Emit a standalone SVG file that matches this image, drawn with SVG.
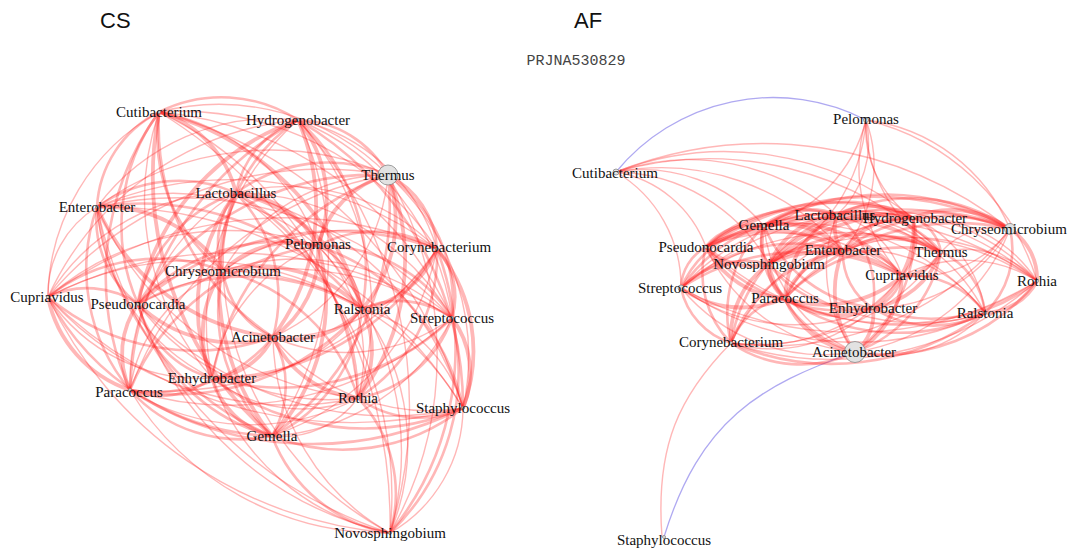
<svg xmlns="http://www.w3.org/2000/svg" width="1071" height="550" viewBox="0 0 1071 550">
<style>
.a,.b,.c{fill:none;stroke:#ff2020;stroke-opacity:.32}
.a{stroke-width:1.4}.b{stroke-width:2.6}.c{stroke-width:3.8}
.bl{fill:none;stroke:#7a70e8;stroke-opacity:.6;stroke-width:1.3}
.n circle{fill:#e2e2e2;stroke:#888;stroke-width:.8}
.n text{font-family:"Liberation Serif",serif;font-size:15px;fill:#111;text-anchor:middle}
.title{font-family:"Liberation Sans",Arial,sans-serif;font-size:22px;fill:#111}
.sub{font-family:"Liberation Mono",monospace;font-size:15px;fill:#444}
</style>
<rect width="1071" height="550" fill="#fff"/>
<text class="title" x="100" y="28">CS</text>
<text class="title" x="574" y="28">AF</text>
<text class="sub" x="576" y="65" text-anchor="middle">PRJNA530829</text>
<g id="connectors">
<g id="cs-edges">
<path class="b" d="M159,112 A140,140 0 0 1 298,120"/>
<path class="a" d="M159,112 A238,238 0 0 1 388,175"/>
<path class="b" d="M159,112 A113,113 0 0 0 97,207"/>
<path class="c" d="M159,112 A112,112 0 0 1 236,193"/>
<path class="a" d="M159,112 A207,207 0 0 1 318,246"/>
<path class="a" d="M159,112 A310,310 0 0 1 437,249"/>
<path class="b" d="M159,112 A171,171 0 0 0 223,271"/>
<path class="a" d="M159,112 A215,215 0 0 0 48,297"/>
<path class="b" d="M159,112 A192,192 0 0 0 138,304"/>
<path class="c" d="M159,112 A284,284 0 0 1 362,309"/>
<path class="a" d="M159,112 A359,359 0 0 1 452,318"/>
<path class="b" d="M159,112 A253,253 0 0 0 273,337"/>
<path class="a" d="M159,112 A271,271 0 0 0 212,378"/>
<path class="b" d="M159,112 A280,280 0 0 0 130,390"/>
<path class="a" d="M159,112 A349,349 0 0 1 358,398"/>
<path class="a" d="M159,112 A425,425 0 0 1 463,408"/>
<path class="c" d="M159,112 A343,343 0 0 0 272,436"/>
<path class="a" d="M159,112 A481,481 0 0 1 390,533"/>
<path class="b" d="M298,120 A105,105 0 0 1 388,175"/>
<path class="a" d="M298,120 A219,219 0 0 0 97,207"/>
<path class="b" d="M298,120 A96,96 0 0 0 236,193"/>
<path class="c" d="M298,120 A126,126 0 0 1 318,246"/>
<path class="a" d="M298,120 A188,188 0 0 1 437,249"/>
<path class="b" d="M298,120 A169,169 0 0 0 223,271"/>
<path class="a" d="M298,120 A306,306 0 0 0 48,297"/>
<path class="c" d="M298,120 A244,244 0 0 0 138,304"/>
<path class="b" d="M298,120 A200,200 0 0 1 362,309"/>
<path class="a" d="M298,120 A251,251 0 0 1 452,318"/>
<path class="c" d="M298,120 A218,218 0 0 1 273,337"/>
<path class="a" d="M298,120 A272,272 0 0 0 212,378"/>
<path class="b" d="M298,120 A320,320 0 0 0 130,390"/>
<path class="a" d="M298,120 A284,284 0 0 1 358,398"/>
<path class="b" d="M298,120 A332,332 0 0 1 463,408"/>
<path class="a" d="M298,120 A317,317 0 0 1 272,436"/>
<path class="a" d="M298,120 A423,423 0 0 1 390,533"/>
<path class="a" d="M388,175 A292,292 0 0 0 97,207"/>
<path class="b" d="M388,175 A153,153 0 0 0 236,193"/>
<path class="c" d="M388,175 A97,97 0 0 0 318,246"/>
<path class="b" d="M388,175 A87,87 0 0 1 437,249"/>
<path class="a" d="M388,175 A191,191 0 0 0 223,271"/>
<path class="a" d="M388,175 A360,360 0 0 0 48,297"/>
<path class="b" d="M388,175 A280,280 0 0 0 138,304"/>
<path class="c" d="M388,175 A135,135 0 0 1 362,309"/>
<path class="b" d="M388,175 A156,156 0 0 1 452,318"/>
<path class="a" d="M388,175 A197,197 0 0 1 273,337"/>
<path class="b" d="M388,175 A267,267 0 0 0 212,378"/>
<path class="a" d="M388,175 A336,336 0 0 0 130,390"/>
<path class="c" d="M388,175 A224,224 0 0 1 358,398"/>
<path class="a" d="M388,175 A244,244 0 0 1 463,408"/>
<path class="b" d="M388,175 A284,284 0 0 1 272,436"/>
<path class="a" d="M388,175 A357,357 0 0 1 390,533"/>
<path class="b" d="M97,207 A140,140 0 0 1 236,193"/>
<path class="a" d="M97,207 A224,224 0 0 1 318,246"/>
<path class="a" d="M97,207 A342,342 0 0 1 437,249"/>
<path class="c" d="M97,207 A141,141 0 0 1 223,271"/>
<path class="a" d="M97,207 A102,102 0 0 0 48,297"/>
<path class="b" d="M97,207 A107,107 0 0 0 138,304"/>
<path class="b" d="M97,207 A284,284 0 0 1 362,309"/>
<path class="a" d="M97,207 A372,372 0 0 1 452,318"/>
<path class="c" d="M97,207 A219,219 0 0 0 273,337"/>
<path class="a" d="M97,207 A206,206 0 0 0 212,378"/>
<path class="b" d="M97,207 A188,188 0 0 0 130,390"/>
<path class="a" d="M97,207 A323,323 0 0 0 358,398"/>
<path class="a" d="M97,207 A418,418 0 0 1 463,408"/>
<path class="b" d="M97,207 A288,288 0 0 0 272,436"/>
<path class="a" d="M97,207 A438,438 0 0 0 390,533"/>
<path class="c" d="M236,193 A98,98 0 0 1 318,246"/>
<path class="a" d="M236,193 A209,209 0 0 1 437,249"/>
<path class="b" d="M236,193 A79,79 0 0 0 223,271"/>
<path class="a" d="M236,193 A215,215 0 0 0 48,297"/>
<path class="b" d="M236,193 A148,148 0 0 0 138,304"/>
<path class="c" d="M236,193 A171,171 0 0 1 362,309"/>
<path class="a" d="M236,193 A250,250 0 0 1 452,318"/>
<path class="b" d="M236,193 A149,149 0 0 1 273,337"/>
<path class="c" d="M236,193 A187,187 0 0 0 212,378"/>
<path class="a" d="M236,193 A224,224 0 0 0 130,390"/>
<path class="b" d="M236,193 A239,239 0 0 1 358,398"/>
<path class="a" d="M236,193 A313,313 0 0 1 463,408"/>
<path class="c" d="M236,193 A246,246 0 0 0 272,436"/>
<path class="a" d="M236,193 A373,373 0 0 1 390,533"/>
<path class="b" d="M318,246 A119,119 0 0 1 437,249"/>
<path class="c" d="M318,246 A98,98 0 0 0 223,271"/>
<path class="a" d="M318,246 A275,275 0 0 0 48,297"/>
<path class="b" d="M318,246 A189,189 0 0 0 138,304"/>
<path class="a" d="M318,246 A77,77 0 0 1 362,309"/>
<path class="b" d="M318,246 A152,152 0 0 1 452,318"/>
<path class="c" d="M318,246 A102,102 0 0 1 273,337"/>
<path class="a" d="M318,246 A169,169 0 0 0 212,378"/>
<path class="b" d="M318,246 A237,237 0 0 0 130,390"/>
<path class="a" d="M318,246 A157,157 0 0 1 358,398"/>
<path class="b" d="M318,246 A217,217 0 0 1 463,408"/>
<path class="c" d="M318,246 A195,195 0 0 1 272,436"/>
<path class="a" d="M318,246 A296,296 0 0 1 390,533"/>
<path class="a" d="M437,249 A215,215 0 0 0 223,271"/>
<path class="a" d="M437,249 A392,392 0 0 0 48,297"/>
<path class="b" d="M437,249 A304,304 0 0 0 138,304"/>
<path class="c" d="M437,249 A96,96 0 0 1 362,309"/>
<path class="b" d="M437,249 A71,71 0 0 1 452,318"/>
<path class="a" d="M437,249 A186,186 0 0 1 273,337"/>
<path class="b" d="M437,249 A259,259 0 0 1 212,378"/>
<path class="a" d="M437,249 A338,338 0 0 1 130,390"/>
<path class="b" d="M437,249 A169,169 0 0 1 358,398"/>
<path class="c" d="M437,249 A161,161 0 0 1 463,408"/>
<path class="a" d="M437,249 A249,249 0 0 1 272,436"/>
<path class="b" d="M437,249 A288,288 0 0 1 390,533"/>
<path class="b" d="M223,271 A177,177 0 0 0 48,297"/>
<path class="a" d="M223,271 A91,91 0 0 0 138,304"/>
<path class="c" d="M223,271 A144,144 0 0 1 362,309"/>
<path class="a" d="M223,271 A234,234 0 0 1 452,318"/>
<path class="b" d="M223,271 A83,83 0 0 0 273,337"/>
<path class="c" d="M223,271 A108,108 0 0 0 212,378"/>
<path class="a" d="M223,271 A151,151 0 0 0 130,390"/>
<path class="b" d="M223,271 A185,185 0 0 1 358,398"/>
<path class="a" d="M223,271 A276,276 0 0 1 463,408"/>
<path class="b" d="M223,271 A172,172 0 0 0 272,436"/>
<path class="a" d="M223,271 A311,311 0 0 0 390,533"/>
<path class="b" d="M48,297 A90,90 0 0 1 138,304"/>
<path class="a" d="M48,297 A314,314 0 0 1 362,309"/>
<path class="a" d="M48,297 A405,405 0 0 1 452,318"/>
<path class="b" d="M48,297 A229,229 0 0 0 273,337"/>
<path class="a" d="M48,297 A183,183 0 0 0 212,378"/>
<path class="c" d="M48,297 A124,124 0 0 0 130,390"/>
<path class="a" d="M48,297 A326,326 0 0 0 358,398"/>
<path class="a" d="M48,297 A430,430 0 0 0 463,408"/>
<path class="b" d="M48,297 A264,264 0 0 0 272,436"/>
<path class="a" d="M48,297 A415,415 0 0 0 390,533"/>
<path class="b" d="M138,304 A224,224 0 0 1 362,309"/>
<path class="a" d="M138,304 A314,314 0 0 1 452,318"/>
<path class="c" d="M138,304 A139,139 0 0 0 273,337"/>
<path class="b" d="M138,304 A105,105 0 0 0 212,378"/>
<path class="c" d="M138,304 A86,86 0 0 0 130,390"/>
<path class="a" d="M138,304 A239,239 0 0 0 358,398"/>
<path class="a" d="M138,304 A341,341 0 0 0 463,408"/>
<path class="b" d="M138,304 A188,188 0 0 0 272,436"/>
<path class="a" d="M138,304 A340,340 0 0 0 390,533"/>
<path class="b" d="M362,309 A90,90 0 0 1 452,318"/>
<path class="c" d="M362,309 A93,93 0 0 1 273,337"/>
<path class="a" d="M362,309 A165,165 0 0 1 212,378"/>
<path class="b" d="M362,309 A246,246 0 0 1 130,390"/>
<path class="c" d="M362,309 A89,89 0 0 1 358,398"/>
<path class="a" d="M362,309 A141,141 0 0 1 463,408"/>
<path class="b" d="M362,309 A156,156 0 0 1 272,436"/>
<path class="a" d="M362,309 A226,226 0 0 1 390,533"/>
<path class="a" d="M452,318 A180,180 0 0 1 273,337"/>
<path class="b" d="M452,318 A247,247 0 0 1 212,378"/>
<path class="a" d="M452,318 A330,330 0 0 1 130,390"/>
<path class="b" d="M452,318 A123,123 0 0 1 358,398"/>
<path class="c" d="M452,318 A91,91 0 0 1 463,408"/>
<path class="a" d="M452,318 A215,215 0 0 1 272,436"/>
<path class="b" d="M452,318 A224,224 0 0 1 390,533"/>
<path class="c" d="M273,337 A73,73 0 0 1 212,378"/>
<path class="b" d="M273,337 A153,153 0 0 1 130,390"/>
<path class="c" d="M273,337 A105,105 0 0 0 358,398"/>
<path class="a" d="M273,337 A203,203 0 0 0 463,408"/>
<path class="b" d="M273,337 A99,99 0 0 1 272,436"/>
<path class="a" d="M273,337 A228,228 0 0 0 390,533"/>
<path class="b" d="M212,378 A83,83 0 0 1 130,390"/>
<path class="a" d="M212,378 A147,147 0 0 0 358,398"/>
<path class="b" d="M212,378 A253,253 0 0 0 463,408"/>
<path class="c" d="M212,378 A83,83 0 0 0 272,436"/>
<path class="a" d="M212,378 A236,236 0 0 0 390,533"/>
<path class="a" d="M130,390 A228,228 0 0 0 358,398"/>
<path class="b" d="M130,390 A334,334 0 0 0 463,408"/>
<path class="b" d="M130,390 A149,149 0 0 0 272,436"/>
<path class="a" d="M130,390 A297,297 0 0 0 390,533"/>
<path class="b" d="M358,398 A105,105 0 0 0 463,408"/>
<path class="a" d="M358,398 A94,94 0 0 1 272,436"/>
<path class="b" d="M358,398 A139,139 0 0 1 390,533"/>
<path class="b" d="M463,408 A193,193 0 0 1 272,436"/>
<path class="a" d="M463,408 A145,145 0 0 1 390,533"/>
<path class="b" d="M272,436 A153,153 0 0 0 390,533"/>
</g>
<g id="af-edges">
<path class="bl" d="M616,172 A203,203 0 0 1 866,120"/>
<path class="bl" d="M855,352 C760,385 700,420 664,537"/>
<path class="a" d="M731,343 C680,395 655,445 662,537"/>
<path class="a" d="M616,172 A158,158 0 0 1 764,226"/>
<path class="a" d="M616,172 A225,225 0 0 1 837,215"/>
<path class="a" d="M616,172 A300,300 0 0 1 913,218"/>
<path class="a" d="M616,172 A398,398 0 0 1 1010,229"/>
<path class="a" d="M616,172 A117,117 0 0 1 706,247"/>
<path class="a" d="M616,172 A240,240 0 0 1 843,251"/>
<path class="a" d="M616,172 A335,335 0 0 1 941,252"/>
<path class="a" d="M616,172 A179,179 0 0 1 769,264"/>
<path class="a" d="M616,172 A133,133 0 0 1 681,288"/>
<path class="a" d="M866,120 A147,147 0 0 1 764,226"/>
<path class="a" d="M866,120 A99,99 0 0 1 837,215"/>
<path class="a" d="M866,120 A109,109 0 0 0 913,218"/>
<path class="a" d="M866,120 A133,133 0 0 1 843,251"/>
<path class="a" d="M866,120 A174,174 0 0 1 769,264"/>
<path class="a" d="M866,120 A152,152 0 0 0 941,252"/>
<path class="a" d="M866,120 A160,160 0 0 0 902,276"/>
<path class="a" d="M866,120 A180,180 0 0 1 1010,229"/>
<path class="a" d="M866,120 A235,235 0 0 1 1037,281"/>
<path class="c" d="M764,226 A74,74 0 0 1 837,215"/>
<path class="b" d="M764,226 A149,149 0 0 1 913,218"/>
<path class="b" d="M764,226 A246,246 0 0 1 1010,229"/>
<path class="c" d="M764,226 A62,62 0 0 0 706,247"/>
<path class="c" d="M764,226 A83,83 0 0 1 843,251"/>
<path class="a" d="M764,226 A179,179 0 0 1 941,252"/>
<path class="b" d="M764,226 A38,38 0 0 0 769,264"/>
<path class="c" d="M764,226 A147,147 0 0 1 902,276"/>
<path class="a" d="M764,226 A278,278 0 0 1 1037,281"/>
<path class="b" d="M764,226 A104,104 0 0 0 681,288"/>
<path class="c" d="M764,226 A75,75 0 0 0 785,298"/>
<path class="b" d="M764,226 A136,136 0 0 0 873,308"/>
<path class="a" d="M764,226 A238,238 0 0 1 985,313"/>
<path class="b" d="M764,226 A122,122 0 0 0 731,343"/>
<path class="a" d="M764,226 A155,155 0 0 0 855,352"/>
<path class="c" d="M837,215 A76,76 0 0 1 913,218"/>
<path class="b" d="M837,215 A174,174 0 0 1 1010,229"/>
<path class="b" d="M837,215 A135,135 0 0 0 706,247"/>
<path class="c" d="M837,215 A37,37 0 0 0 843,251"/>
<path class="b" d="M837,215 A110,110 0 0 1 941,252"/>
<path class="c" d="M837,215 A84,84 0 0 0 769,264"/>
<path class="a" d="M837,215 A89,89 0 0 1 902,276"/>
<path class="a" d="M837,215 A211,211 0 0 1 1037,281"/>
<path class="b" d="M837,215 A172,172 0 0 0 681,288"/>
<path class="c" d="M837,215 A98,98 0 0 0 785,298"/>
<path class="b" d="M837,215 A100,100 0 0 1 873,308"/>
<path class="a" d="M837,215 A178,178 0 0 1 985,313"/>
<path class="b" d="M837,215 A166,166 0 0 0 731,343"/>
<path class="a" d="M837,215 A138,138 0 0 0 855,352"/>
<path class="c" d="M913,218 A98,98 0 0 1 1010,229"/>
<path class="b" d="M913,218 A209,209 0 0 0 706,247"/>
<path class="c" d="M913,218 A77,77 0 0 0 843,251"/>
<path class="b" d="M913,218 A44,44 0 0 1 941,252"/>
<path class="c" d="M913,218 A151,151 0 0 0 769,264"/>
<path class="b" d="M913,218 A59,59 0 0 1 902,276"/>
<path class="a" d="M913,218 A139,139 0 0 1 1037,281"/>
<path class="a" d="M913,218 A242,242 0 0 0 681,288"/>
<path class="b" d="M913,218 A151,151 0 0 0 785,298"/>
<path class="c" d="M913,218 A98,98 0 0 1 873,308"/>
<path class="a" d="M913,218 A119,119 0 0 1 985,313"/>
<path class="a" d="M913,218 A221,221 0 0 0 731,343"/>
<path class="b" d="M913,218 A146,146 0 0 1 855,352"/>
<path class="b" d="M1010,229 A305,305 0 0 0 706,247"/>
<path class="b" d="M1010,229 A168,168 0 0 0 843,251"/>
<path class="a" d="M1010,229 A73,73 0 0 0 941,252"/>
<path class="c" d="M1010,229 A244,244 0 0 0 769,264"/>
<path class="a" d="M1010,229 A118,118 0 0 1 902,276"/>
<path class="c" d="M1010,229 A59,59 0 0 1 1037,281"/>
<path class="a" d="M1010,229 A334,334 0 0 0 681,288"/>
<path class="b" d="M1010,229 A235,235 0 0 0 785,298"/>
<path class="a" d="M1010,229 A158,158 0 0 1 873,308"/>
<path class="b" d="M1010,229 A88,88 0 0 1 985,313"/>
<path class="a" d="M1010,229 A301,301 0 0 1 731,343"/>
<path class="a" d="M1010,229 A198,198 0 0 1 855,352"/>
<path class="c" d="M706,247 A137,137 0 0 1 843,251"/>
<path class="b" d="M706,247 A235,235 0 0 1 941,252"/>
<path class="c" d="M706,247 A65,65 0 0 0 769,264"/>
<path class="a" d="M706,247 A198,198 0 0 1 902,276"/>
<path class="a" d="M706,247 A333,333 0 0 1 1037,281"/>
<path class="b" d="M706,247 A48,48 0 0 0 681,288"/>
<path class="c" d="M706,247 A94,94 0 0 0 785,298"/>
<path class="b" d="M706,247 A178,178 0 0 0 873,308"/>
<path class="a" d="M706,247 A287,287 0 0 0 985,313"/>
<path class="b" d="M706,247 A99,99 0 0 0 731,343"/>
<path class="a" d="M706,247 A182,182 0 0 0 855,352"/>
<path class="c" d="M843,251 A98,98 0 0 1 941,252"/>
<path class="c" d="M843,251 A75,75 0 0 0 769,264"/>
<path class="b" d="M843,251 A64,64 0 0 1 902,276"/>
<path class="a" d="M843,251 A196,196 0 0 1 1037,281"/>
<path class="b" d="M843,251 A166,166 0 0 0 681,288"/>
<path class="c" d="M843,251 A75,75 0 0 0 785,298"/>
<path class="b" d="M843,251 A64,64 0 0 0 873,308"/>
<path class="a" d="M843,251 A155,155 0 0 1 985,313"/>
<path class="b" d="M843,251 A145,145 0 0 0 731,343"/>
<path class="c" d="M843,251 A102,102 0 0 0 855,352"/>
<path class="b" d="M941,252 A172,172 0 0 0 769,264"/>
<path class="c" d="M941,252 A46,46 0 0 1 902,276"/>
<path class="a" d="M941,252 A100,100 0 0 1 1037,281"/>
<path class="a" d="M941,252 A262,262 0 0 0 681,288"/>
<path class="b" d="M941,252 A163,163 0 0 0 785,298"/>
<path class="c" d="M941,252 A88,88 0 0 1 873,308"/>
<path class="b" d="M941,252 A75,75 0 0 1 985,313"/>
<path class="a" d="M941,252 A229,229 0 0 1 731,343"/>
<path class="b" d="M941,252 A132,132 0 0 1 855,352"/>
<path class="c" d="M769,264 A134,134 0 0 1 902,276"/>
<path class="a" d="M769,264 A269,269 0 0 1 1037,281"/>
<path class="b" d="M769,264 A91,91 0 0 0 681,288"/>
<path class="c" d="M769,264 A38,38 0 0 0 785,298"/>
<path class="b" d="M769,264 A113,113 0 0 0 873,308"/>
<path class="a" d="M769,264 A221,221 0 0 0 985,313"/>
<path class="c" d="M769,264 A88,88 0 0 0 731,343"/>
<path class="b" d="M769,264 A123,123 0 0 0 855,352"/>
<path class="a" d="M902,276 A135,135 0 0 1 1037,281"/>
<path class="b" d="M902,276 A221,221 0 0 0 681,288"/>
<path class="c" d="M902,276 A119,119 0 0 1 785,298"/>
<path class="b" d="M902,276 A43,43 0 0 1 873,308"/>
<path class="b" d="M902,276 A91,91 0 0 1 985,313"/>
<path class="a" d="M902,276 A184,184 0 0 1 731,343"/>
<path class="c" d="M902,276 A89,89 0 0 1 855,352"/>
<path class="a" d="M1037,281 A356,356 0 0 1 681,288"/>
<path class="a" d="M1037,281 A253,253 0 0 1 785,298"/>
<path class="b" d="M1037,281 A166,166 0 0 1 873,308"/>
<path class="c" d="M1037,281 A61,61 0 0 1 985,313"/>
<path class="a" d="M1037,281 A312,312 0 0 1 731,343"/>
<path class="b" d="M1037,281 A195,195 0 0 1 855,352"/>
<path class="c" d="M681,288 A104,104 0 0 0 785,298"/>
<path class="a" d="M681,288 A193,193 0 0 0 873,308"/>
<path class="a" d="M681,288 A305,305 0 0 0 985,313"/>
<path class="b" d="M681,288 A74,74 0 0 0 731,343"/>
<path class="a" d="M681,288 A185,185 0 0 0 855,352"/>
<path class="c" d="M785,298 A89,89 0 0 0 873,308"/>
<path class="b" d="M785,298 A201,201 0 0 0 985,313"/>
<path class="b" d="M785,298 A70,70 0 0 0 731,343"/>
<path class="c" d="M785,298 A88,88 0 0 0 855,352"/>
<path class="b" d="M873,308 A112,112 0 0 0 985,313"/>
<path class="a" d="M873,308 A146,146 0 0 1 731,343"/>
<path class="c" d="M873,308 A48,48 0 0 1 855,352"/>
<path class="b" d="M985,313 A256,256 0 0 1 731,343"/>
<path class="a" d="M985,313 A136,136 0 0 1 855,352"/>
<path class="b" d="M731,343 A124,124 0 0 0 855,352"/>
</g>
</g>
<g id="cs-nodes">
<g id="cs-cutibacterium" class="n"><circle cx="159" cy="112" r="1.5"/><text x="159" y="117">Cutibacterium</text></g>
<g id="cs-hydrogenobacter" class="n"><circle cx="298" cy="120" r="1.5"/><text x="298" y="125">Hydrogenobacter</text></g>
<g id="cs-thermus" class="n"><circle cx="388" cy="175" r="10"/><text x="388" y="180">Thermus</text></g>
<g id="cs-enterobacter" class="n"><circle cx="97" cy="207" r="1.5"/><text x="97" y="212">Enterobacter</text></g>
<g id="cs-lactobacillus" class="n"><circle cx="236" cy="193" r="1.5"/><text x="236" y="198">Lactobacillus</text></g>
<g id="cs-pelomonas" class="n"><circle cx="318" cy="246" r="1.5"/><text x="318" y="249">Pelomonas</text></g>
<g id="cs-corynebacterium" class="n"><circle cx="437" cy="249" r="1.5"/><text x="439" y="252">Corynebacterium</text></g>
<g id="cs-chryseomicrobium" class="n"><circle cx="223" cy="271" r="1.5"/><text x="223" y="276">Chryseomicrobium</text></g>
<g id="cs-cupriavidus" class="n"><circle cx="48" cy="297" r="1.5"/><text x="47" y="302">Cupriavidus</text></g>
<g id="cs-pseudonocardia" class="n"><circle cx="138" cy="304" r="1.5"/><text x="138" y="309">Pseudonocardia</text></g>
<g id="cs-ralstonia" class="n"><circle cx="362" cy="309" r="1.5"/><text x="362" y="314">Ralstonia</text></g>
<g id="cs-streptococcus" class="n"><circle cx="452" cy="318" r="1.5"/><text x="452" y="323">Streptococcus</text></g>
<g id="cs-acinetobacter" class="n"><circle cx="273" cy="337" r="1.5"/><text x="273" y="342">Acinetobacter</text></g>
<g id="cs-enhydrobacter" class="n"><circle cx="212" cy="378" r="1.5"/><text x="212" y="383">Enhydrobacter</text></g>
<g id="cs-paracoccus" class="n"><circle cx="130" cy="390" r="1.5"/><text x="129" y="397">Paracoccus</text></g>
<g id="cs-rothia" class="n"><circle cx="358" cy="398" r="1.5"/><text x="358" y="403">Rothia</text></g>
<g id="cs-staphylococcus" class="n"><circle cx="463" cy="408" r="1.5"/><text x="463" y="413">Staphylococcus</text></g>
<g id="cs-gemella" class="n"><circle cx="272" cy="436" r="1.5"/><text x="272" y="441">Gemella</text></g>
<g id="cs-novosphingobium" class="n"><circle cx="390" cy="533" r="1.5"/><text x="390" y="538">Novosphingobium</text></g>
</g>
<g id="af-nodes">
<g id="af-pelomonas" class="n"><circle cx="866" cy="120" r="2.5"/><text x="866" y="124">Pelomonas</text></g>
<g id="af-cutibacterium" class="n"><circle cx="616" cy="172" r="3"/><text x="615" y="178">Cutibacterium</text></g>
<g id="af-gemella" class="n"><circle cx="764" cy="226" r="1.5"/><text x="764" y="230">Gemella</text></g>
<g id="af-lactobacillus" class="n"><circle cx="837" cy="215" r="1.5"/><text x="835" y="220">Lactobacillus</text></g>
<g id="af-hydrogenobacter" class="n"><circle cx="913" cy="218" r="1.5"/><text x="915" y="223">Hydrogenobacter</text></g>
<g id="af-chryseomicrobium" class="n"><circle cx="1010" cy="229" r="5.5"/><text x="1009" y="234">Chryseomicrobium</text></g>
<g id="af-pseudonocardia" class="n"><circle cx="706" cy="247" r="1.5"/><text x="706" y="252">Pseudonocardia</text></g>
<g id="af-enterobacter" class="n"><circle cx="843" cy="251" r="1.5"/><text x="843" y="255">Enterobacter</text></g>
<g id="af-thermus" class="n"><circle cx="941" cy="252" r="1.5"/><text x="941" y="257">Thermus</text></g>
<g id="af-novosphingobium" class="n"><circle cx="769" cy="264" r="1.5"/><text x="769" y="269">Novosphingobium</text></g>
<g id="af-cupriavidus" class="n"><circle cx="902" cy="276" r="1.5"/><text x="902" y="280">Cupriavidus</text></g>
<g id="af-rothia" class="n"><circle cx="1037" cy="281" r="1.5"/><text x="1037" y="286">Rothia</text></g>
<g id="af-streptococcus" class="n"><circle cx="681" cy="288" r="3"/><text x="680" y="293">Streptococcus</text></g>
<g id="af-paracoccus" class="n"><circle cx="785" cy="298" r="1.5"/><text x="785" y="303">Paracoccus</text></g>
<g id="af-enhydrobacter" class="n"><circle cx="873" cy="308" r="1.5"/><text x="873" y="313">Enhydrobacter</text></g>
<g id="af-ralstonia" class="n"><circle cx="985" cy="313" r="1.5"/><text x="985" y="318">Ralstonia</text></g>
<g id="af-corynebacterium" class="n"><circle cx="731" cy="343" r="1.5"/><text x="731" y="347">Corynebacterium</text></g>
<g id="af-acinetobacter" class="n"><circle cx="855" cy="352" r="10.5"/><text x="854" y="357">Acinetobacter</text></g>
<g id="af-staphylococcus" class="n"><circle cx="664" cy="537" r="1.5"/><text x="664" y="545">Staphylococcus</text></g>
</g>
</svg>
